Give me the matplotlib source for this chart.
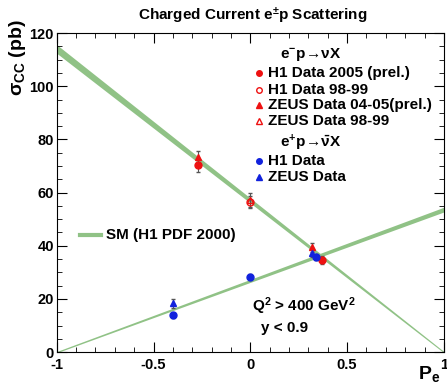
import matplotlib.pyplot as plt
import numpy as np

plt.rcParams['font.family'] = ['Liberation Sans', 'DejaVu Sans']
plt.rcParams['font.weight'] = 'bold'
plt.rcParams['mathtext.fontset'] = 'custom'
plt.rcParams['mathtext.rm'] = 'Liberation Sans:bold'
plt.rcParams['mathtext.it'] = 'Liberation Sans:bold'
plt.rcParams['mathtext.bf'] = 'Liberation Sans:bold'

# SM expectation (H1 PDF 2000): sigma = a * (1 -/+ P)
sm_em_at0 = 57.0
sm_ep_at0 = 26.8
sm_rel_unc = 0.012

# e-p data (red)
h1_05_P = [-0.27, 0.37]
h1_05_s = [70.3, 34.6]
h1_05_e = [2.5, 1.6]
h1_9899_P = [0.0]
h1_9899_s = [56.4]
h1_9899_e = [2.2]
zeus_0405_P = [-0.27, 0.32]
zeus_0405_s = [73.2, 39.4]
zeus_0405_e = [2.3, 1.8]
zeus_9899_P = [0.0]
zeus_9899_s = [57.2]
zeus_9899_e = [2.5]

# e+p data (blue)
h1_ep_P = [-0.40, 0.0, 0.34]
h1_ep_s = [13.8, 28.2, 35.8]
h1_ep_e = [0.9, 1.0, 1.2]
zeus_ep_P = [-0.40, 0.32]
zeus_ep_s = [18.3, 37.2]
zeus_ep_e = [1.8, 1.6]

fig = plt.figure(figsize=(4.47, 3.84), dpi=100)
ax = fig.add_axes([0.127, 0.083, 0.866, 0.831])

green = '#90c286'
P = np.linspace(-1, 1, 200)
sm_em = sm_em_at0 * (1 - P)
sm_ep = sm_ep_at0 * (1 + P)
for s in (sm_em, sm_ep):
    w = sm_rel_unc * s + 0.25
    ax.fill_between(P, s - w, s + w, color=green, lw=0, zorder=1)

red = '#ee1111'
blue = '#1122dd'
ms = 5
eb = dict(ecolor='#555555', elinewidth=0.8, capsize=1.5, zorder=3, ms=ms)
ax.errorbar(zeus_0405_P, zeus_0405_s, yerr=zeus_0405_e, fmt='^', color=red, **eb)
ax.errorbar(h1_05_P, h1_05_s, yerr=h1_05_e, fmt='o', color=red, **eb)
ax.errorbar(zeus_9899_P, zeus_9899_s, yerr=zeus_9899_e, fmt='^', color=red, mfc='none', **eb)
ax.errorbar(h1_9899_P, h1_9899_s, yerr=h1_9899_e, fmt='o', color=red, mfc='none', **eb)
ax.errorbar(h1_ep_P, h1_ep_s, yerr=h1_ep_e, fmt='o', color=blue, **eb)
ax.errorbar(zeus_ep_P, zeus_ep_s, yerr=zeus_ep_e, fmt='^', color=blue, **eb)

ax.set_xlim(-1, 1)
ax.set_ylim(0, 120)
ax.set_xticks([-1, -0.5, 0, 0.5, 1])
ax.set_xticklabels(['-1', '-0.5', '0', '0.5', '1'])
ax.set_xticks(np.arange(-1, 1.01, 0.1), minor=True)
ax.set_yticks([0, 20, 40, 60, 80, 100, 120])
ax.set_yticks(np.arange(0, 121, 5), minor=True)
ax.tick_params(which='both', direction='in', top=True, right=True, labelsize=10.5)
ax.tick_params(axis='x', pad=4)
ax.tick_params(axis='y', pad=2)
ax.tick_params(which='major', length=7)
ax.tick_params(which='minor', length=3.5)
for lab in ax.get_xticklabels() + ax.get_yticklabels():
    lab.set_fontweight('bold')

fs = 11
fig.text(0.565, 0.958, 'Charged Current e$^{\\pm}$p Scattering', ha='center', va='center',
         fontsize=fs, fontweight='bold')
fig.text(0.04, 0.85, '$\\sigma_{CC}$ (pb)', rotation=90, ha='center', va='center',
         fontsize=14, fontweight='bold')
fig.text(0.96, 0.025, '$P_e$', ha='center', va='center', fontsize=14)

# legend, hand placed like the original
lx, tx = 0.579, 0.600
fig.text(0.626, 0.857, 'e$^{-}$p$\\!\\rightarrow\\!\\nu$X', fontsize=fs, fontweight='bold', va='center')
rows = [
    (0.810, 'o', red, red, 'H1 Data 2005 (prel.)'),
    (0.766, 'o', red, 'none', 'H1 Data 98-99'),
    (0.727, '^', red, red, 'ZEUS Data 04-05(prel.)'),
    (0.685, '^', red, 'none', 'ZEUS Data 98-99'),
    (0.581, 'o', blue, blue, 'H1 Data'),
    (0.539, '^', blue, blue, 'ZEUS Data'),
]
for y, m, c, fc, txt in rows:
    fig.lines.append(plt.Line2D([lx], [y], marker=m, color=c, mfc=fc, ms=4,
                                transform=fig.transFigure, figure=fig))
    fig.text(tx, y, txt, fontsize=fs, fontweight='bold', va='center')
fig.text(0.626, 0.628, 'e$^{+}$p$\\!\\rightarrow\\!\\bar{\\nu}$X', fontsize=fs, fontweight='bold', va='center')

fig.lines.append(plt.Line2D([0.18, 0.225], [0.388, 0.388], color=green, lw=3,
                            transform=fig.transFigure, figure=fig))
fig.text(0.238, 0.388, 'SM (H1 PDF 2000)', fontsize=fs, fontweight='bold', va='center')

fig.text(0.563, 0.203, 'Q$^{2}$ > 400 GeV$^{2}$', fontsize=fs, fontweight='bold', va='center')
fig.text(0.583, 0.146, 'y < 0.9', fontsize=fs, fontweight='bold', va='center')

fig.savefig('out.png', dpi=100)
